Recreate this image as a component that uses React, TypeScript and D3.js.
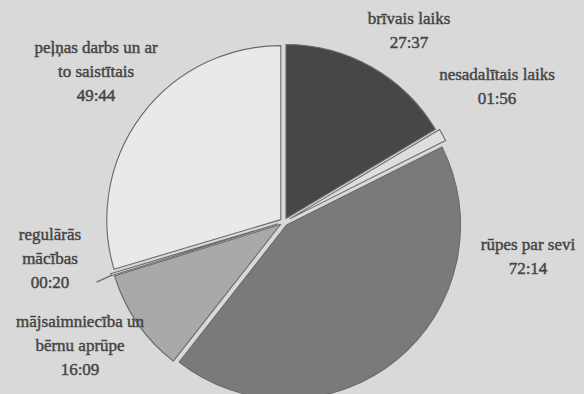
import { useMemo } from "react";
import * as d3 from "d3";

// Weekly time budget (hh:mm), slices clockwise from 12 o'clock
const CATEGORIES = [
  "brīvais laiks",
  "nesadalītais laiks",
  "rūpes par sevi",
  "mājsaimniecība un bērnu aprūpe",
  "regulārās mācības",
  "peļņas darbs un ar to saistītais",
];
const TIMES = ["27:37", "01:56", "72:14", "16:09", "00:20", "49:44"];
const LABEL_LINES = [
  ["brīvais laiks"],
  ["nesadalītais laiks"],
  ["rūpes par sevi"],
  ["mājsaimniecība un", "bērnu aprūpe"],
  ["regulārās", "mācības"],
  ["peļņas darbs un ar", "to saistītais"],
];
const FILLS = ["#474747", "#dedede", "#7a7a7a", "#a9a9a9", "#dedede", "#e9e9e9"];

// label anchors (centre x, first line y)
const LABEL_POS: [number, number][] = [
  [409, 24],
  [497, 80],
  [528, 250],
  [80, 327],
  [50, 240],
  [96, 53],
];

const W = 584;
const H = 394;
const CX = 284;
const CY = 222;
const R = 174;

const toMinutes = (t: string) => {
  const [h, m] = t.split(":").map(Number);
  return h * 60 + m;
};

export default function App() {
  const slices = useMemo(() => {
    const pie = d3
      .pie<string>()
      .sort(null)
      .value((t) => toMinutes(t));
    return pie(TIMES);
  }, []);

  const arc = d3.arc<d3.PieArcDatum<string>>().innerRadius(0).outerRadius(R);
  const thin = (i: number) => toMinutes(TIMES[i]) < 200;

  return (
    <svg width={W} height={H} style={{ position: "absolute", left: 0, top: 0 }}>
      <rect width={W} height={H} fill="#d9d9d9" />
      <g transform={`translate(${CX},${CY})`}>
        {slices.map((s, i) => {
          const mid = (s.startAngle + s.endAngle) / 2;
          const off = thin(i) ? 7 : 4;
          const dx = Math.sin(mid) * off;
          const dy = -Math.cos(mid) * off;
          return (
            <path
              key={CATEGORIES[i]}
              d={arc(s) || ""}
              transform={`translate(${dx},${dy})`}
              fill={FILLS[i]}
              stroke="#6a6a6a"
              strokeWidth={1.1}
              strokeLinejoin="round"
            />
          );
        })}
        {slices
          .filter((_, i) => toMinutes(TIMES[i]) < 60)
          .map((s) => {
            const mid = (s.startAngle + s.endAngle) / 2;
            const r0 = R + 7;
            const r1 = R + 22;
            return (
              <line
                key="leader"
                x1={Math.sin(mid) * r0}
                y1={-Math.cos(mid) * r0 + 1}
                x2={Math.sin(mid) * r1}
                y2={-Math.cos(mid) * r1 + 3}
                stroke="#6a6a6a"
                strokeWidth={1.3}
              />
            );
          })}
      </g>
      {LABEL_LINES.map((lines, i) => {
        const [x, y] = LABEL_POS[i];
        return (
          <text
            key={CATEGORIES[i]}
            x={x}
            y={y}
            textAnchor="middle"
            fontSize={17}
            fill="#454545"
            stroke="#454545"
            strokeWidth={0.45}
            style={{ fontFamily: "'Liberation Serif'" }}
          >
            {[...lines, TIMES[i]].map((ln, j) => (
              <tspan key={j} x={x} dy={j === 0 ? 0 : 24}>
                {ln}
              </tspan>
            ))}
          </text>
        );
      })}
    </svg>
  );
}
